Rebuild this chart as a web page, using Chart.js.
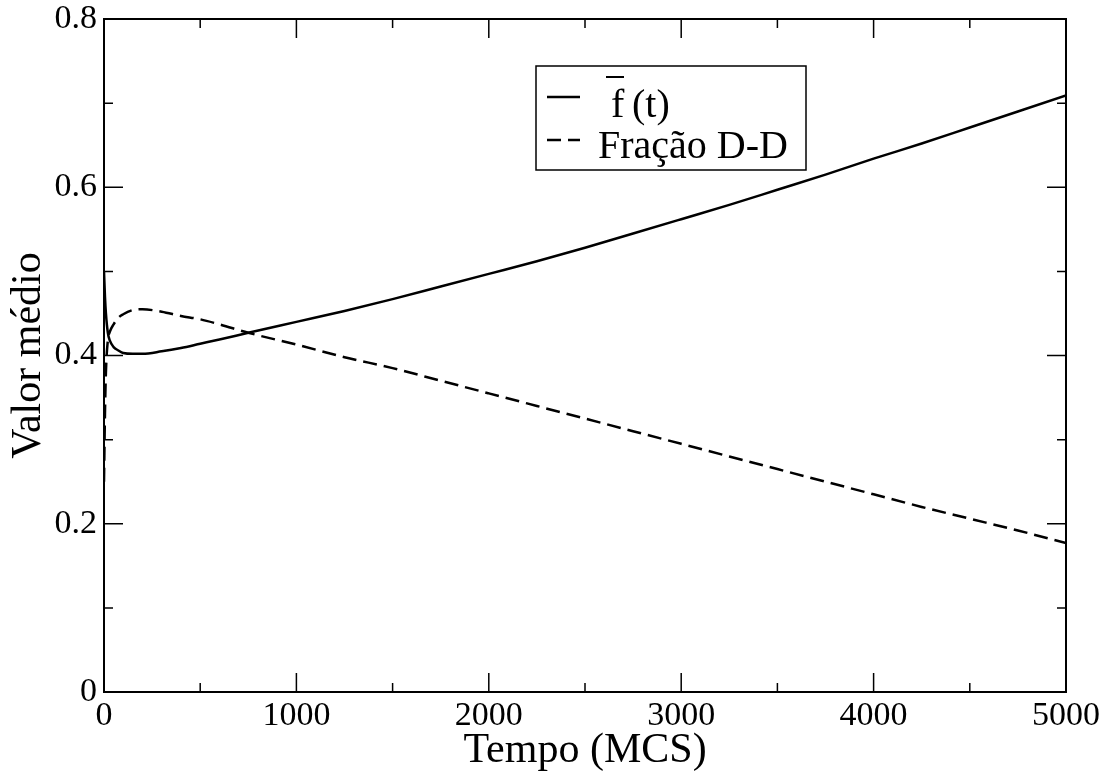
<!DOCTYPE html>
<html>
<head>
<meta charset="utf-8">
<script src="https://cdn.jsdelivr.net/npm/chart.js@4.4.1/dist/chart.umd.min.js"></script>
<style>
  html, body { margin: 0; padding: 0; background: #fff; }
  #wrap { width: 1107px; height: 776px; }
</style>
</head>
<body>
<div id="wrap"><canvas id="plot" width="1107" height="776"></canvas></div>
<script>
// time in MCS
const tempo = [0, 5, 10, 20, 30, 50, 75, 100, 150, 200, 300, 400, 500, 600, 750,
  1000, 1250, 1500, 1750, 2000, 2250, 2500, 2750, 3000, 3250, 3500, 3750, 4000, 4250, 4500, 4750, 5000];
// f bar (t), solid
const fMedio = [0.50, 0.47, 0.45, 0.427, 0.418, 0.410, 0.406, 0.403, 0.402, 0.402, 0.405, 0.409, 0.414, 0.419, 0.427,
  0.440, 0.453, 0.467, 0.482, 0.497, 0.512, 0.528, 0.545, 0.562, 0.579, 0.597, 0.615, 0.634, 0.652, 0.671, 0.690, 0.709];
// fracao D-D, dashed
const fracaoDD = [0.25, 0.33, 0.38, 0.418, 0.428, 0.437, 0.445, 0.449, 0.454, 0.455, 0.452, 0.447, 0.443, 0.437, 0.427,
  0.413, 0.398, 0.385, 0.370, 0.355, 0.340, 0.325, 0.310, 0.295, 0.280, 0.265, 0.250, 0.235, 0.220, 0.206, 0.192, 0.177];

const xTicks = [0, 1000, 2000, 3000, 4000, 5000];
const yTicks = [0, 0.2, 0.4, 0.6, 0.8];
const legendLabels = ['f', '(t)', 'Fração D-D'];

const serif = '"Liberation Serif", "DejaVu Serif", serif';
const dash = [14, 7];

const pts = (ys) => tempo.map((t, i) => ({ x: t, y: ys[i] }));

// frame on top/right plus inward major and minor ticks on all sides, legend box
const frameTicks = {
  id: 'frameTicks',
  afterDraw(chart) {
    const { ctx, chartArea: a, scales } = chart;
    const xs = scales.x, ys = scales.y;
    ctx.save();
    ctx.strokeStyle = '#000';
    ctx.lineWidth = 2;
    ctx.strokeRect(a.left, a.top, a.right - a.left, a.bottom - a.top);
    ctx.lineWidth = 1.5;
    for (let v = 0; v <= 5000; v += 500) {
      const px = xs.getPixelForValue(v);
      const len = v % 1000 === 0 ? 19 : 9;
      ctx.beginPath();
      ctx.moveTo(px, a.bottom); ctx.lineTo(px, a.bottom - len);
      ctx.moveTo(px, a.top); ctx.lineTo(px, a.top + len);
      ctx.stroke();
    }
    for (let k = 0; k <= 8; k++) {
      const py = ys.getPixelForValue(k / 10);
      const len = k % 2 === 0 ? 19 : 9;
      ctx.beginPath();
      ctx.moveTo(a.left, py); ctx.lineTo(a.left + len, py);
      ctx.moveTo(a.right, py); ctx.lineTo(a.right - len, py);
      ctx.stroke();
    }

    // legend
    ctx.lineWidth = 1.5;
    ctx.strokeRect(536, 66, 270, 104);
    ctx.lineWidth = 2.5;
    ctx.beginPath();
    ctx.moveTo(547, 97); ctx.lineTo(580, 97);
    ctx.stroke();
    ctx.setLineDash(dash);
    ctx.beginPath();
    ctx.moveTo(547, 140); ctx.lineTo(580, 140);
    ctx.stroke();
    ctx.setLineDash([]);
    ctx.fillStyle = '#000';
    ctx.font = '40px ' + serif;
    ctx.textBaseline = 'alphabetic';
    ctx.fillText(legendLabels[0], 611, 117);
    ctx.fillText(legendLabels[1], 632, 117);
    ctx.lineWidth = 2;
    ctx.beginPath();
    ctx.moveTo(606, 77); ctx.lineTo(624, 77);
    ctx.stroke();
    ctx.fillText(legendLabels[2], 598, 158);
    ctx.restore();
  }
};

new Chart(document.getElementById('plot'), {
  type: 'line',
  data: {
    datasets: [{
      label: 'f (t)',
      data: pts(fMedio),
      borderColor: '#000',
      borderWidth: 2.5,
      pointRadius: 0,
      cubicInterpolationMode: 'monotone'
    }, {
      label: 'Fração D-D',
      data: pts(fracaoDD),
      borderColor: '#000',
      borderWidth: 2.5,
      borderDash: dash,
      pointRadius: 0,
      cubicInterpolationMode: 'monotone'
    }]
  },
  options: {
    responsive: false,
    animation: false,
    layout: { padding: { top: 19, right: 41, left: 0, bottom: 0 } },
    plugins: { legend: { display: false }, tooltip: { enabled: false } },
    scales: {
      x: {
        type: 'linear',
        min: 0, max: 5000,
        afterBuildTicks: (s) => { s.ticks = xTicks.map(v => ({ value: v })); },
        afterFit: (s) => { s.height = 84; s.paddingLeft = 0; s.paddingRight = 0; },
        grid: { display: false, drawTicks: false },
        border: { display: false },
        ticks: {
          color: '#000', padding: 4, maxRotation: 0,
          font: { family: serif, size: 34 },
          callback: (v) => String(v)
        },
        title: {
          display: true, text: 'Tempo (MCS)', color: '#000',
          font: { family: serif, size: 42 },
          padding: { top: 0, bottom: 0 }
        }
      },
      y: {
        min: 0, max: 0.8,
        afterBuildTicks: (s) => { s.ticks = yTicks.map(v => ({ value: v })); },
        afterFit: (s) => { s.width = 104; s.paddingTop = 0; s.paddingBottom = 0; },
        grid: { display: false, drawTicks: false },
        border: { display: false },
        ticks: {
          color: '#000', padding: 7,
          font: { family: serif, size: 34 },
          callback: (v) => String(v)
        },
        title: {
          display: true, text: 'Valor médio', color: '#000',
          font: { family: serif, size: 42 },
          padding: { top: 4, bottom: 0 }
        }
      }
    }
  },
  plugins: [frameTicks]
});
</script>
</body>
</html>
